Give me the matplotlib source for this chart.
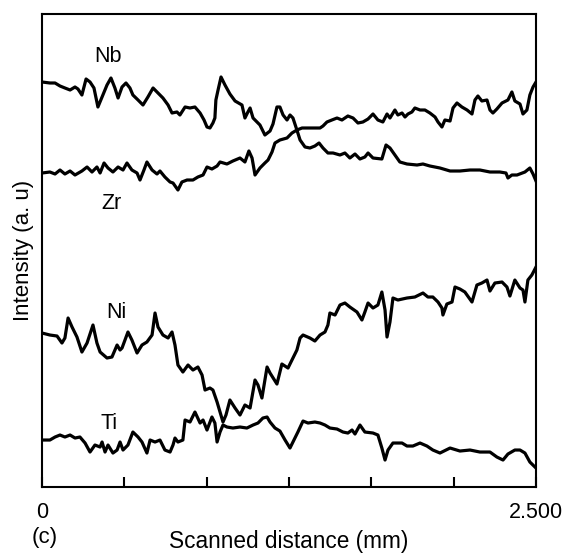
import matplotlib
matplotlib.use("Agg")
import matplotlib.pyplot as plt

plt.rcParams['font.family'] = ['Liberation Sans', 'DejaVu Sans']

# line scan data, x in mm, intensity in arbitrary units
nb_x = [0, 0.040, 0.066, 0.091, 0.116, 0.142, 0.167, 0.182, 0.202, 0.223, 0.243, 0.263, 0.283, 0.304,
        0.329, 0.349, 0.369, 0.385, 0.405, 0.425, 0.445, 0.460, 0.486, 0.511, 0.536, 0.562, 0.587,
        0.612, 0.638, 0.658, 0.683, 0.698, 0.724, 0.749, 0.774, 0.800, 0.820, 0.835, 0.850, 0.865,
        0.875, 0.880, 0.891, 0.906, 0.926, 0.951, 0.977, 1.012, 1.027, 1.042, 1.053, 1.068, 1.083,
        1.103, 1.128, 1.154, 1.169, 1.189, 1.204, 1.220, 1.240, 1.255, 1.270, 1.290, 1.306, 1.331,
        1.356, 1.381, 1.402, 1.422, 1.447, 1.473, 1.508, 1.533, 1.558, 1.584, 1.609, 1.634, 1.650,
        1.675, 1.720, 1.741, 1.761, 1.786, 1.811, 1.847, 1.898, 1.928, 1.963, 2.014, 2.065, 2.115,
        2.166, 2.216, 2.267, 2.317, 2.348, 2.358, 2.378, 2.404, 2.444, 2.469, 2.485, 2.500]
nb_y = [405, 404, 404, 401, 399, 397, 400, 398, 392, 408, 405, 399, 380, 390,
        402, 409, 399, 389, 400, 404, 399, 392, 387, 382, 390, 399, 394,
        389, 382, 374, 375, 372, 380, 379, 380, 374, 367, 360, 359, 364,
        369, 387, 397, 410, 402, 393, 386, 382, 369, 375, 379, 369, 366,
        362, 352, 356, 363, 380, 380, 372, 367, 372, 369, 357, 347, 340,
        339, 341, 344, 339, 334, 334, 332, 334, 329, 333, 328, 330, 334,
        329, 328, 342, 339, 332, 325, 323, 322, 323, 321, 319, 316, 316,
        317, 317, 315, 315, 314, 309, 312, 312, 315, 319, 313, 306]

zr_x = [0, 0.040, 0.066, 0.091, 0.116, 0.142, 0.167, 0.202, 0.228, 0.253, 0.278, 0.294, 0.314,
        0.334, 0.359, 0.385, 0.410, 0.430, 0.455, 0.481, 0.496, 0.516, 0.531, 0.557, 0.582, 0.597,
        0.622, 0.648, 0.663, 0.688, 0.708, 0.734, 0.764, 0.789, 0.815, 0.835, 0.860, 0.886, 0.901,
        0.936, 0.966, 1.002, 1.027, 1.047, 1.063, 1.078, 1.103, 1.128, 1.144, 1.164, 1.179, 1.204,
        1.240, 1.265, 1.290, 1.316, 1.341, 1.371, 1.407, 1.422, 1.442, 1.467, 1.493, 1.518, 1.548,
        1.574, 1.599, 1.624, 1.650, 1.675, 1.700, 1.725, 1.746, 1.761, 1.786, 1.801, 1.822, 1.837,
        1.852, 1.872, 1.887, 1.913, 1.938, 1.963, 1.989, 2.004, 2.024, 2.039, 2.065, 2.080, 2.100,
        2.125, 2.151, 2.176, 2.191, 2.206, 2.226, 2.252, 2.267, 2.282, 2.302, 2.328, 2.358, 2.378,
        2.393, 2.419, 2.434, 2.454, 2.469, 2.485, 2.500]
zr_y = [314, 315, 313, 317, 313, 316, 312, 316, 320, 315, 320, 314, 324,
        319, 315, 320, 317, 324, 317, 314, 307, 317, 325, 317, 313, 316,
        310, 305, 304, 297, 305, 307, 307, 310, 312, 320, 318, 321, 325,
        323, 326, 329, 325, 336, 329, 312, 319, 324, 327, 335, 344, 347,
        349, 354, 357, 359, 359, 359, 359, 361, 365, 367, 369, 367, 371,
        369, 364, 365, 368, 373, 367, 365, 373, 369, 377, 372, 374, 370,
        373, 375, 379, 377, 377, 374, 370, 365, 360, 367, 366, 379, 384,
        380, 377, 373, 387, 391, 386, 387, 377, 374, 378, 384, 387, 395,
        386, 383, 373, 377, 392, 400, 405]

ni_x = [0, 0.040, 0.076, 0.101, 0.116, 0.132, 0.152, 0.177, 0.202, 0.228, 0.258, 0.278, 0.294,
        0.329, 0.354, 0.380, 0.395, 0.405, 0.435, 0.455, 0.481, 0.506, 0.531, 0.557, 0.572, 0.587,
        0.612, 0.638, 0.658, 0.673, 0.688, 0.713, 0.739, 0.764, 0.789, 0.810, 0.825, 0.850, 0.865,
        0.886, 0.901, 0.916, 0.931, 0.951, 0.977, 1.002, 1.027, 1.053, 1.078, 1.093, 1.113, 1.139,
        1.154, 1.189, 1.214, 1.245, 1.270, 1.290, 1.306, 1.321, 1.356, 1.381, 1.407, 1.432, 1.447,
        1.457, 1.483, 1.508, 1.533, 1.558, 1.594, 1.619, 1.634, 1.650, 1.675, 1.700, 1.720, 1.736,
        1.746, 1.761, 1.776, 1.801, 1.847, 1.887, 1.928, 1.953, 1.978, 2.004, 2.024, 2.029, 2.049,
        2.075, 2.090, 2.115, 2.140, 2.176, 2.201, 2.226, 2.252, 2.267, 2.292, 2.328, 2.353, 2.368,
        2.393, 2.419, 2.434, 2.444, 2.459, 2.479, 2.500]
ni_y = [154, 152, 151, 144, 149, 169, 160, 150, 135, 144, 162, 144, 135,
        129, 130, 142, 137, 139, 155, 147, 134, 142, 145, 152, 174, 160,
        152, 149, 155, 142, 122, 115, 122, 117, 120, 112, 97, 99, 97,
        85, 75, 65, 72, 87, 79, 72, 82, 79, 107, 102, 89, 120,
        114, 103, 123, 119, 129, 137, 149, 152, 149, 146, 152, 155, 162,
        174, 172, 182, 184, 180, 175, 167, 175, 184, 179, 182, 195, 177,
        150, 165, 189, 187, 189, 190, 194, 190, 190, 185, 179, 172, 183,
        185, 200, 198, 195, 185, 202, 204, 207, 196, 204, 205, 200, 191,
        207, 199, 197, 185, 207, 212, 220]

ti_x = [0, 0.040, 0.066, 0.091, 0.116, 0.142, 0.167, 0.192, 0.218, 0.243, 0.268, 0.294, 0.304,
        0.319, 0.334, 0.359, 0.380, 0.395, 0.410, 0.435, 0.460, 0.486, 0.506, 0.531, 0.547, 0.572,
        0.597, 0.622, 0.648, 0.663, 0.673, 0.688, 0.713, 0.724, 0.749, 0.774, 0.800, 0.815, 0.835,
        0.860, 0.875, 0.886, 0.901, 0.916, 0.936, 0.966, 1.002, 1.037, 1.068, 1.093, 1.118, 1.139,
        1.154, 1.179, 1.204, 1.230, 1.255, 1.270, 1.295, 1.321, 1.346, 1.381, 1.407, 1.432, 1.457,
        1.493, 1.523, 1.548, 1.569, 1.584, 1.609, 1.634, 1.675, 1.700, 1.720, 1.736, 1.751, 1.776,
        1.822, 1.847, 1.877, 1.913, 1.948, 1.978, 2.014, 2.065, 2.115, 2.166, 2.216, 2.267, 2.302,
        2.333, 2.358, 2.393, 2.419, 2.444, 2.469, 2.500]
ti_y = [47, 47, 50, 52, 50, 52, 49, 50, 44, 35, 42, 40, 45,
        35, 42, 34, 37, 45, 37, 42, 55, 50, 45, 34, 47, 45,
        47, 37, 35, 42, 49, 45, 47, 67, 65, 75, 64, 67, 57,
        70, 64, 45, 55, 62, 60, 59, 60, 59, 62, 64, 69, 70,
        65, 59, 56, 47, 39, 45, 55, 66, 64, 65, 64, 62, 59,
        58, 55, 54, 57, 53, 62, 55, 54, 52, 39, 27, 37, 44,
        44, 41, 41, 44, 41, 37, 34, 39, 36, 37, 35, 35, 30,
        27, 33, 37, 37, 34, 25, 19]

labels = ['Nb', 'Zr', 'Ni', 'Ti']
label_x = [0.334, 0.354, 0.375, 0.339]
label_y = [430, 284, 175, 64]

fig = plt.figure(figsize=(5.66, 5.53), dpi=100)
ax = fig.add_axes([0.0742, 0.1193, 0.8728, 0.8554])

for xs, ys in [(nb_x, nb_y), (zr_x, zr_y), (ni_x, ni_y), (ti_x, ti_y)]:
    ax.plot(xs, ys, color='black', lw=2.3, solid_joinstyle='round')

for name, lx, ly in zip(labels, label_x, label_y):
    ax.text(lx, ly, name, fontsize=15.5, ha='center', va='center')

ax.set_xlim(0, 2.5)
ax.set_ylim(0, 473)
ax.set_xticks([i * 2.5 / 6 for i in range(7)])
ax.set_xticklabels(['0', '', '', '', '', '', '2.500'], fontsize=15.5)
ax.set_yticks([])
ax.tick_params(axis='x', direction='in', length=7, width=1.5, pad=11)
for sp in ax.spines.values():
    sp.set_linewidth(1.5)

ax.set_xlabel('Scanned distance (mm)', fontsize=16.3, labelpad=5)
ax.set_ylabel('Intensity (a. u)', fontsize=16, labelpad=6)
fig.text(32 / 566, 1 - 537 / 553, '(c)', fontsize=16, ha='left', va='center')

fig.savefig('out.png', dpi=100)
